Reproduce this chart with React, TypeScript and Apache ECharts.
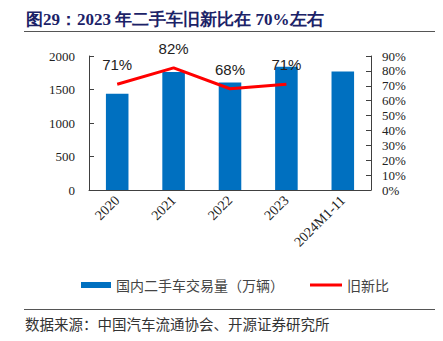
import React, { useEffect, useRef } from "react";
import * as echarts from "echarts";

const categories = ["2020", "2021", "2022", "2023", "2024M1-11"];
const volume = [1436, 1760, 1605, 1841, 1770];
const ratio = [71, 82, 68, 71, null];
const ratioLabels = ["71%", "82%", "68%", "71%", ""];
const titleText = "图29：2023 年二手车旧新比在 70%左右";
const sourceText = "数据来源：中国汽车流通协会、开源证券研究所";
const barName = "国内二手车交易量（万辆）";
const lineName = "旧新比";

export default function App() {
  const ref = useRef<HTMLDivElement>(null);
  useEffect(() => {
    if (!ref.current) return;
    const chart = echarts.init(ref.current, undefined, { renderer: "svg" });
    const serif = "'Liberation Serif', 'Times New Roman', serif";
    const cjk = "'Noto Sans CJK SC', sans-serif";
    chart.setOption({
      animation: false,
      backgroundColor: "#fff",
      grid: { left: 89, right: 72, top: 56, bottom: 151 },
      legend: [
        {
          data: [{ name: barName, icon: "rect" }],
          left: 76,
          top: 273,
          itemWidth: 30,
          itemHeight: 6,
          itemGap: 6,
          textStyle: { fontFamily: cjk, fontSize: 14, color: "#444" },
        },
        {
          data: [{ name: lineName, icon: "rect", itemStyle: { color: "#FF0000" } }],
          left: 305,
          top: 273,
          itemWidth: 32,
          itemHeight: 3,
          itemGap: 6,
          textStyle: { fontFamily: cjk, fontSize: 14, color: "#444" },
        },
      ],
      xAxis: {
        type: "category",
        data: categories,
        axisLine: { lineStyle: { color: "#404040" } },
        axisTick: { inside: true, length: 5, lineStyle: { color: "#404040" } },
        axisLabel: {
          rotate: 45,
          fontFamily: serif,
          fontSize: 14,
          color: "#222",
          margin: 8,
        },
      },
      yAxis: [
        {
          type: "value",
          min: 0,
          max: 2000,
          interval: 500,
          splitLine: { show: false },
          axisLine: { show: true, lineStyle: { color: "#404040" } },
          axisTick: { show: true, inside: true, length: 5, lineStyle: { color: "#404040" } },
          axisLabel: {
            formatter: (v: number) => String(v),
            fontFamily: serif,
            fontSize: 13,
            color: "#222",
            margin: 14,
          },
        },
        {
          type: "value",
          min: 0,
          max: 90,
          interval: 10,
          position: "right",
          splitLine: { show: false },
          axisLine: { show: true, lineStyle: { color: "#404040" } },
          axisTick: { show: true, inside: true, length: 5, lineStyle: { color: "#404040" } },
          axisLabel: {
            formatter: "{value}%",
            fontFamily: serif,
            fontSize: 13,
            color: "#222",
            margin: 11,
          },
        },
      ],
      series: [
        {
          name: barName,
          type: "bar",
          data: volume,
          barWidth: "40%",
          itemStyle: { color: "#0070C0" },
        },
        {
          name: lineName,
          type: "line",
          yAxisIndex: 1,
          data: ratio,
          symbol: "circle",
          symbolSize: 0,
          showSymbol: true,
          lineStyle: { color: "#FF0000", width: 3 },
          itemStyle: { color: "#FF0000" },
          label: {
            show: true,
            position: "top",
            distance: 12,
            fontFamily: "'Liberation Sans', Arial, sans-serif",
            fontSize: 15,
            color: "#222",
            formatter: (p: any) => ratioLabels[p.dataIndex],
          },
        },
      ],
      graphic: [
        {
          type: "text",
          left: 26,
          top: 11,
          style: {
            text: titleText,
            fontFamily: serif,
            fontWeight: "bold",
            fontSize: 17,
            fill: "#1B2267",
          },
        },
        {
          type: "line",
          shape: { x1: 24, y1: 31.5, x2: 436, y2: 31.5 },
          style: { stroke: "#555", lineWidth: 1.2 },
        },
        {
          type: "line",
          shape: { x1: 24, y1: 309.5, x2: 436, y2: 309.5 },
          style: { stroke: "#555", lineWidth: 1.2 },
        },
        {
          type: "text",
          left: 25,
          top: 316,
          style: { text: sourceText, fontFamily: cjk, fontSize: 14.5, fill: "#333" },
        },
      ],
    });
    return () => chart.dispose();
  }, []);
  return <div ref={ref} style={{ width: 443, height: 341, margin: -8 }} />;
}
